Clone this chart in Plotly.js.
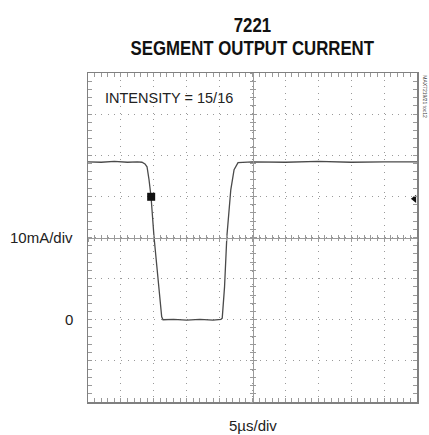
<!DOCTYPE html>
<html><head><meta charset="utf-8">
<script src="https://cdn.plot.ly/plotly-3.0.1.min.js"></script>
<style>html,body{margin:0;padding:0;background:#fff}#chart{width:429px;height:435px}</style>
</head><body><div id="chart"></div>
<script>
// time in µs (5 µs/div), current in mA (10 mA/div)
const timeUs = [0, 2, 4, 6, 7.5, 8.2, 8.66, 8.97, 9.27, 9.58, 10.03, 10.64, 11.2, 11.4, 13, 15, 17, 19, 20.2, 20.4, 20.75, 21.1, 21.7, 22.2, 22.8, 25, 30, 35, 40, 45, 50];
const currentMA = [38.4, 38.3, 38.5, 38.3, 38.4, 38.3, 37.9, 37.2, 34.1, 29.9, 20.2, 9.7, 0.7, 0, 0.1, -0.1, 0.1, -0.1, 0.1, 0.4, 8, 20.2, 31.6, 36.5, 38.2, 38.4, 38.3, 38.5, 38.3, 38.4, 38.4];
const ch1MarkerT = [9.6], ch1MarkerI = [29.9];
const trigMarkerT = [49.6], trigMarkerI = [29.4];
const xRange = [0, 50], yRange = [-20, 60];
const xDiv = 5, yDiv = 10, xMinor = 1, yMinor = 2;
const titleLines = ['7221', 'SEGMENT OUTPUT CURRENT'];

const gridCol = '#9a9a9a';
const titleFont = 'Liberation Sans, Arial, sans-serif';
const labelFont = 'Liberation Sans, Arial, sans-serif';

const traces = [
  {x: timeUs, y: currentMA, type: 'scatter', mode: 'lines', line: {color: '#4a4a4a', width: 1.3}, hoverinfo: 'skip'},
  {x: ch1MarkerT, y: ch1MarkerI, type: 'scatter', mode: 'markers', marker: {symbol: 'square', size: 8, color: '#111'}, hoverinfo: 'skip'},
  {x: trigMarkerT, y: trigMarkerI, type: 'scatter', mode: 'markers', marker: {symbol: 'triangle-left', size: 7, color: '#111'}, hoverinfo: 'skip'},
  {x: [], y: [], xaxis: 'x2', yaxis: 'y', type: 'scatter'},
  {x: [], y: [], xaxis: 'x3', yaxis: 'y', type: 'scatter'},
  {x: [], y: [], xaxis: 'x', yaxis: 'y2', type: 'scatter'},
  {x: [], y: [], xaxis: 'x', yaxis: 'y3', type: 'scatter'}
];

function centerAx(extra) {
  return Object.assign({
    anchor: 'free', position: 0.5,
    showgrid: false, zeroline: false, showticklabels: false,
    showline: true, linecolor: gridCol, linewidth: 1,
    ticklen: 3, tickcolor: gridCol, tickwidth: 1,
    fixedrange: true
  }, extra);
}

const layout = {
  width: 429, height: 435,
  margin: {l: 88, r: 12, t: 73, b: 33},
  paper_bgcolor: '#fff', plot_bgcolor: '#fff',
  showlegend: false,
  xaxis: {
    range: xRange, dtick: xDiv, tick0: 0, showticklabels: false,
    showgrid: true, gridcolor: gridCol, griddash: '1px,5.6px', gridwidth: 1,
    zeroline: false, showline: true, linecolor: '#808080', linewidth: 1.5, mirror: 'allticks',
    ticks: 'inside', ticklen: 4, tickcolor: gridCol,
    minor: {dtick: xMinor, ticks: 'inside', ticklen: 2.5, tickcolor: gridCol, showgrid: false},
    fixedrange: true
  },
  yaxis: {
    range: yRange, dtick: yDiv, tick0: 0, showticklabels: false,
    showgrid: true, gridcolor: gridCol, griddash: '1px,5.6px', gridwidth: 1,
    zeroline: false, showline: true, linecolor: '#808080', linewidth: 1.5, mirror: 'allticks',
    ticks: 'inside', ticklen: 4, tickcolor: gridCol,
    minor: {dtick: yMinor, ticks: 'inside', ticklen: 2.5, tickcolor: gridCol, showgrid: false},
    fixedrange: true
  },
  xaxis2: centerAx({overlaying: 'x', range: xRange, dtick: xDiv, ticks: 'outside', side: 'bottom',
    minor: {dtick: xMinor, ticks: 'outside', ticklen: 2.5, tickcolor: gridCol}}),
  xaxis3: centerAx({overlaying: 'x', range: xRange, dtick: xDiv, ticks: 'inside', side: 'bottom',
    minor: {dtick: xMinor, ticks: 'inside', ticklen: 2.5, tickcolor: gridCol}}),
  yaxis2: centerAx({overlaying: 'y', range: yRange, dtick: yDiv, ticks: 'outside', side: 'left',
    minor: {dtick: yMinor, ticks: 'outside', ticklen: 2.5, tickcolor: gridCol}}),
  yaxis3: centerAx({overlaying: 'y', range: yRange, dtick: yDiv, ticks: 'inside', side: 'left',
    minor: {dtick: yMinor, ticks: 'inside', ticklen: 2.5, tickcolor: gridCol}}),
  annotations: [
    {text: '<b>' + titleLines[0] + '</b>', xref: 'paper', yref: 'paper', x: 0.5015, y: 1.147, xanchor: 'center', yanchor: 'middle',
     showarrow: false, font: {family: titleFont, size: 21, color: '#111'}},
    {text: '<b>' + titleLines[1] + '</b>', xref: 'paper', yref: 'paper', x: 0.5015, y: 1.0775, xanchor: 'center', yanchor: 'middle',
     showarrow: false, font: {family: titleFont, size: 21, color: '#111'}},
    {text: 'INTENSITY = 15/16', xref: 'paper', yref: 'paper', x: 0.045, y: 0.925, xanchor: 'left', yanchor: 'middle',
     showarrow: false, font: {family: labelFont, size: 14.5, color: '#222'}},
    {text: '10mA/div', xref: 'paper', yref: 'y', x: -0.04, y: 20, xanchor: 'right', yanchor: 'middle',
     showarrow: false, font: {family: labelFont, size: 15, color: '#222'}},
    {text: '0', xref: 'paper', yref: 'y', x: -0.04, y: 0, xanchor: 'right', yanchor: 'middle',
     showarrow: false, font: {family: labelFont, size: 15, color: '#222'}},
    {text: '5µs/div', xref: 'x', yref: 'paper', x: 25, y: -0.07, xanchor: 'center', yanchor: 'middle',
     showarrow: false, font: {family: labelFont, size: 15, color: '#222'}},
    {text: 'MAX7219/21 toc12', xref: 'paper', yref: 'paper', x: 1.025, y: 1.0, xanchor: 'center', yanchor: 'top',
     textangle: 90, showarrow: false, font: {family: labelFont, size: 5, color: '#444'}}
  ]
};

Plotly.newPlot('chart', traces, layout, {staticPlot: true, displayModeBar: false}).then(function (gd) {
  // condense the two title lines horizontally (narrow bold face of the original)
  const texts = gd.querySelectorAll('.annotation text.annotation-text');
  [0, 1].forEach(function (i) {
    const t = texts[i];
    if (!t) return;
    const bb = t.getBBox();
    const cx = bb.x + bb.width / 2;
    const prev = t.getAttribute('transform') || '';
    t.setAttribute('transform', prev + ' translate(' + cx + ',0) scale(0.8,1) translate(' + (-cx) + ',0)');
  });
});
</script></body></html>
